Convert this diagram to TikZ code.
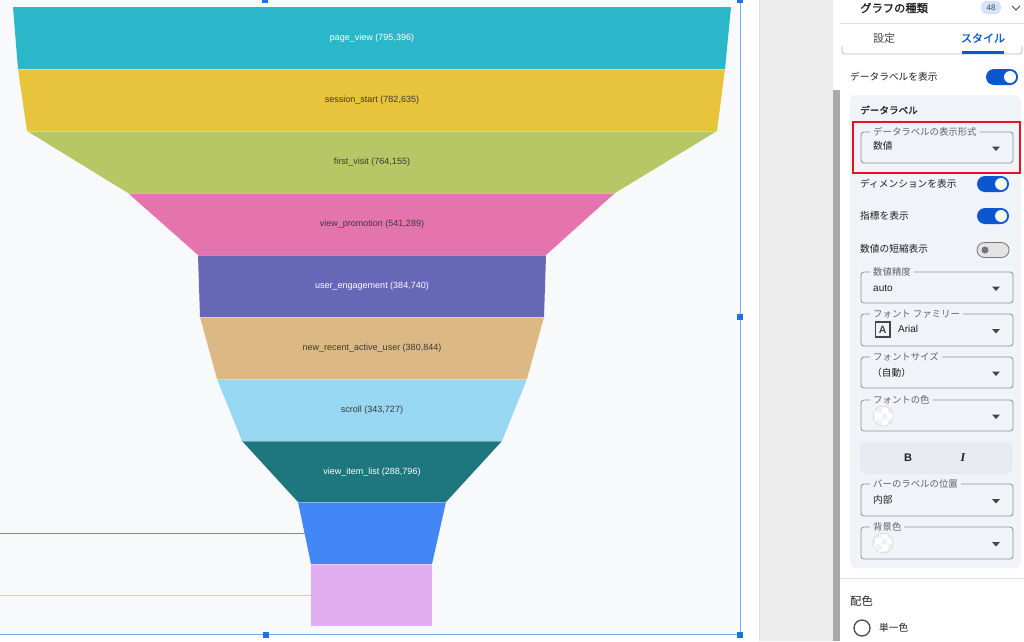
\documentclass[tikz,border=0pt]{standalone}
\usepackage{fontspec}
\setmainfont{Liberation Sans}
\newfontfamily\jp{Noto Sans CJK JP}
\newfontfamily\jpb[FakeBold=1.2]{Noto Sans CJK JP}
\newfontfamily\serifI{Liberation Serif}
\usetikzlibrary{patterns}
\definecolor{cA}{HTML}{2BB7CA}
\definecolor{cB}{HTML}{E8C33C}
\definecolor{cC}{HTML}{B7C766}
\definecolor{cD}{HTML}{E573AE}
\definecolor{cE}{HTML}{6767B8}
\definecolor{cF}{HTML}{DCB884}
\definecolor{cG}{HTML}{97D7F2}
\definecolor{cH}{HTML}{1E767E}
\definecolor{cI}{HTML}{4287F5}
\definecolor{cJ}{HTML}{E2AEF2}
\definecolor{chartbg}{HTML}{F8F9FB}
\definecolor{stripgray}{HTML}{EDEDED}
\definecolor{scrollgray}{HTML}{A8A8A8}
\definecolor{panelbg}{HTML}{F0F4F9}
\definecolor{gblue}{HTML}{0B57D0}
\definecolor{selblue}{HTML}{7BAAF7}
\definecolor{handleblue}{HTML}{1A73E8}
\definecolor{redbox}{HTML}{E8131F}
\definecolor{txt}{HTML}{1F1F1F}
\definecolor{txtgray}{HTML}{444746}
\definecolor{boxline}{HTML}{8E918F}
\definecolor{divider}{HTML}{E0E0E0}
\definecolor{funtxt}{HTML}{3A3A3A}
\definecolor{guideblue}{HTML}{5B8FE8}
\definecolor{guidelav}{HTML}{E3C2F0}
\definecolor{badgebg}{HTML}{D3E3FD}
\definecolor{offline}{HTML}{747775}
\definecolor{offfill}{HTML}{E3E3E3}
\definecolor{groupbg}{HTML}{E7EBF1}
\definecolor{lblgray}{HTML}{5F6368}
\newcommand\myband[7]{\fill[#1] (#3,#2) -- (#4,#2) -- (#7,#5) -- (#6,#5) -- cycle;}
\newcommand\mytri[1]{\fill[txtgray] (992,{#1-2}) -- (1000,{#1-2}) -- (996,{#1+2.5}) -- cycle;}
\newcommand\mydd[4]{% name, y1, y2, label
  \draw[boxline, line width=0.8pt, rounded corners=3pt] (861,#2) rectangle (1013,#3);
  \node[ddlabel] (#1) at (870,#2) {#4};
  \mytri{(#2+#3)/2+1}}
\newcommand\mytogon[3]{% name, xc, y
  \fill[gblue, rounded corners=8pt] ({#2-16},{#3-8}) rectangle ({#2+16},{#3+8});
  \node[circle, fill=white, minimum size=12pt, inner sep=0] (#1) at ({#2+8},#3) {};}
\newcommand\mycheck[2]{% name, y
  \fill[white] (883,#2) circle (10);
  \fill[pattern=checkerboard, pattern color=black!6] (883,#2) circle (10);
  \draw[black!16, line width=0.6pt] (883,#2) circle (10);
  \coordinate (#1) at (883,#2);}
\begin{document}
\begin{tikzpicture}[x=1pt,y=-1pt,
  flab/.style={font=\fontsize{9}{10}\selectfont, inner sep=0},
  jptext/.style={font=\jp\fontsize{9.7}{11}\selectfont, text=txt, anchor=west, inner sep=0},
  ddlabel/.style={font=\jp\fontsize{9.4}{11}\selectfont, text=lblgray, fill=panelbg, anchor=west, inner xsep=3pt, inner ysep=0pt},
  ddval/.style={anchor=west, inner sep=0, text=txt},
  handle/.style={fill=handleblue, minimum size=5.5pt, inner sep=0}]
\useasboundingbox (0,0) rectangle (1024,641);
\fill[white] (0,0) rectangle (1024,641);
% chart area
\fill[chartbg] (0,0) rectangle (740,634);
% side strip and scrollbar
\fill[stripgray] (759,0) rectangle (833,641);
\draw[black!12] (759,0) -- (759,641);
\fill[scrollgray] (833,90) rectangle (840,641);
% funnel bands
\myband{cA}{7}{13}{731}{69}{18}{725}
\myband{cB}{69}{18}{725}{131}{27}{717}
\myband{cC}{131}{27}{717}{193}{128}{615}
\myband{cD}{193}{128}{615}{255}{198}{546}
\myband{cE}{255}{198}{546}{317}{200}{544}
\myband{cF}{317}{200}{544}{379}{217}{527}
\myband{cG}{379}{217}{527}{441}{242}{502}
\myband{cH}{441}{242}{502}{502}{298}{446}
\myband{cI}{502}{298}{446}{564}{311}{432}
\myband{cJ}{564}{311}{432}{626}{311}{432}
\foreach \yy/\xl/\xr in {69/18/725,131/27/717,193/128/615,255/198/546,317/200/544,379/217/527,441/242/502,502/298/446,564/311/432}
  \draw[white, opacity=0.35, line width=0.6pt] (\xl,\yy) -- (\xr,\yy);
% funnel labels
\node[flab, text=white] (l1) at (372,38) {page\_view (795,396)};
\node[flab, text=funtxt] (l2) at (372,100) {session\_start (782,635)};
\node[flab, text=funtxt] (l3) at (372,162) {first\_visit (764,155)};
\node[flab, text=funtxt] (l4) at (372,224) {view\_promotion (541,289)};
\node[flab, text=white] (l5) at (372,286) {user\_engagement (384,740)};
\node[flab, text=funtxt] (l6) at (372,348) {new\_recent\_active\_user (380,844)};
\node[flab, text=funtxt] (l7) at (372,410) {scroll (343,727)};
\node[flab, text=white] (l8) at (372,472) {view\_item\_list (288,796)};
% left guide lines
\coordinate (gb0) at (0,533); \coordinate (gb1) at (305,533);
\coordinate (gl0) at (0,595); \coordinate (gl1) at (311,595);
\draw[guideblue, line width=1pt] (gb0) -- (gb1);
\draw[guidelav, line width=1pt] (gl0) -- (gl1);
% selection frame
\coordinate (s0) at (740,0); \coordinate (s1) at (740,634); \coordinate (s2) at (0,634);
\draw[selblue, line width=1pt] (s0) -- (s1) -- (s2);
\node[handle] (h1) at (265,0) {};
\node[handle] (h2) at (740,0) {};
\node[handle] (h3) at (740,317) {};
\node[handle] (h4) at (266,635) {};
\node[handle] (h5) at (740,635) {};
% right panel header
\node[anchor=west, inner sep=0, font=\jpb\fontsize{11.3}{13}\selectfont, text=txt] (title) at (860,8) {グラフの種類};
\fill[badgebg, rounded corners=5pt] (981,1) rectangle (1001,14);
\node[inner sep=0, font=\fontsize{8}{9}\selectfont, text=txtgray] (badge) at (991,7.5) {48};
\draw[txtgray, line width=0.8pt] (1012,6) -- (1016,10) -- (1020,6);
\draw[divider] (840,23) -- (1024,23);
\node[inner sep=0, font=\jp\fontsize{11}{13}\selectfont, text=txtgray] (tab1) at (884,38) {設定};
\node[inner sep=0, font=\jpb\fontsize{11}{13}\selectfont, text=gblue] (tab2) at (983,38) {スタイル};
\draw[boxline!60, line width=0.8pt, rounded corners=3pt] (842,46) -- (842,54) -- (1022,54) -- (1022,46);
\fill[gblue] (962,51) rectangle (1004,53.5);
% show data labels
\node[jptext] (t1) at (850,77) {データラベルを表示};
\mytogon{tg1}{1002}{77}
% section panel
\fill[panelbg, rounded corners=6pt] (850,95) rectangle (1021,568);
\node[jptext, font=\jpb\fontsize{9.6}{11}\selectfont] (t2) at (860,110) {データラベル};
\mydd{d1}{132}{163}{データラベルの表示形式}
\node[ddval, font=\jp\fontsize{9.7}{11}\selectfont] (v1) at (873,146) {数値};
\draw[redbox, line width=2.6pt] (853,122) rectangle (1020,173);
\node[jptext] (t3) at (860,184) {ディメンションを表示};
\mytogon{tg2}{993}{184}
\node[jptext] (t4) at (860,216) {指標を表示};
\mytogon{tg3}{993}{216}
\node[jptext] (t5) at (860,249) {数値の短縮表示};
\draw[offline, fill=offfill, line width=0.8pt, rounded corners=7.5pt] (977,242.5) rectangle (1009,257.5);
\node[circle, fill=offline, minimum size=7pt, inner sep=0] (tg4) at (985,250) {};
\mydd{d2}{272}{303}{数値精度}
\node[ddval, font=\fontsize{10}{12}\selectfont] (v2) at (873,288) {auto};
\mydd{d3}{314}{346}{フォント ファミリー}
\draw[txtgray, line width=1.5pt] (875.5,322) rectangle (890,337);
\node[inner sep=0, font=\bfseries\fontsize{10.5}{12}\selectfont, text=txtgray] (icA) at (882.75,329.8) {A};
\node[ddval, font=\fontsize{10}{12}\selectfont] (v3) at (898,329) {Arial};
\mydd{d4}{357}{388}{フォントサイズ}
\node[ddval, font=\jp\fontsize{9.7}{11}\selectfont] (v4) at (872,373) {（自動）};
\mydd{d5}{400}{431}{フォントの色}
\mycheck{v5}{416}
% bold / italic group
\fill[groupbg, rounded corners=6pt] (860,442) rectangle (1012,474);
\node[inner sep=0, font=\bfseries\fontsize{11}{13}\selectfont, text=txt] (bB) at (908,457.5) {B};
\node[inner sep=0, font=\serifI\bfseries\itshape\fontsize{12}{14}\selectfont, text=txt] (bI) at (963,457.5) {I};
\mydd{d6}{484}{516}{バーのラベルの位置}
\node[ddval, font=\jp\fontsize{9.7}{11}\selectfont] (v6) at (873,500) {内部};
\mydd{d7}{527}{559}{背景色}
\mycheck{v7}{543}
% color section
\draw[divider] (840,578) -- (1024,578);
\node[jptext, font=\jp\fontsize{11.3}{13}\selectfont] (t6) at (850,601) {配色};
\node[circle, draw=txtgray, line width=1.3pt, minimum size=16pt, inner sep=0] (radio) at (862,628) {};
\node[jptext] (t7) at (879,628) {単一色};
\end{tikzpicture}
\end{document}
